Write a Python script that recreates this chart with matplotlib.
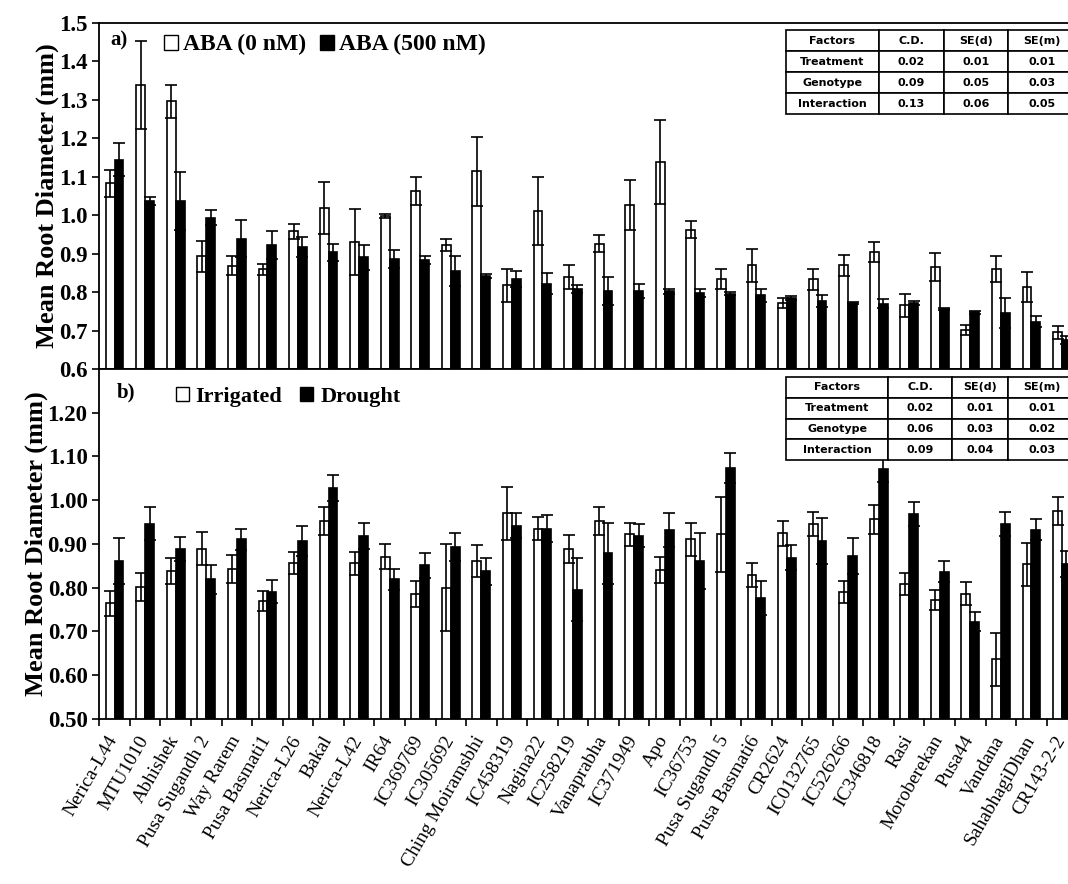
import numpy as np
import matplotlib.pyplot as plt
import matplotlib.transforms as mtransforms
from matplotlib.patches import Patch

plt.rcParams['font.family'] = ['Liberation Serif', 'DejaVu Serif']

genotypes = ['Nerica-L44', 'MTU1010', 'Abhishek', 'Pusa Sugandh 2', 'Way Rarem',
             'Pusa Basmati1', 'Nerica-L26', 'Bakal', 'Nerica-L42', 'IR64',
             'IC369769', 'IC305692', 'Ching Moiramsbhi', 'IC458319', 'Nagina22',
             'IC258219', 'Vanaprabha', 'IC371949', 'Apo', 'IC36753',
             'Pusa Sugandh 5', 'Pusa Basmati6', 'CR2624', 'IC0132765', 'IC526266',
             'IC346818', 'Rasi', 'Moroberekan', 'Pusa44', 'Vandana',
             'SahabhagiDhan', 'CR143-2-2']

# a) ABA treatment, mean root diameter (mm) and error
aba_0 = [1.083, 1.339, 1.296, 0.893, 0.868, 0.859, 0.958, 1.019, 0.929, 0.997,
         1.062, 0.922, 1.114, 0.817, 1.011, 0.838, 0.926, 1.025, 1.139, 0.962,
         0.833, 0.869, 0.772, 0.833, 0.869, 0.903, 0.766, 0.865, 0.701, 0.859,
         0.813, 0.695]
aba_0_err = [0.035, 0.114, 0.043, 0.040, 0.025, 0.015, 0.020, 0.067, 0.086, 0.005,
             0.037, 0.016, 0.090, 0.042, 0.088, 0.031, 0.023, 0.065, 0.109, 0.022,
             0.026, 0.044, 0.013, 0.028, 0.028, 0.026, 0.030, 0.037, 0.013, 0.034,
             0.039, 0.017]
aba_500 = [1.144, 1.036, 1.036, 0.993, 0.939, 0.922, 0.916, 0.903, 0.890, 0.886,
           0.883, 0.854, 0.841, 0.834, 0.822, 0.807, 0.802, 0.802, 0.802, 0.798,
           0.796, 0.791, 0.785, 0.777, 0.772, 0.770, 0.772, 0.756, 0.747, 0.746,
           0.723, 0.675]
aba_500_err = [0.043, 0.010, 0.075, 0.020, 0.047, 0.036, 0.026, 0.023, 0.032, 0.024,
               0.010, 0.039, 0.005, 0.020, 0.028, 0.010, 0.036, 0.018, 0.007, 0.010,
               0.003, 0.018, 0.005, 0.015, 0.003, 0.012, 0.005, 0.003, 0.003, 0.039,
               0.014, 0.010]

# b) water regime, mean root diameter (mm) and error
irrigated = [0.764, 0.801, 0.838, 0.889, 0.842, 0.770, 0.857, 0.953, 0.856, 0.871,
             0.786, 0.800, 0.861, 0.970, 0.935, 0.889, 0.953, 0.922, 0.841, 0.911,
             0.922, 0.829, 0.924, 0.945, 0.790, 0.956, 0.808, 0.772, 0.786, 0.636,
             0.854, 0.976]
irrigated_err = [0.029, 0.032, 0.029, 0.038, 0.032, 0.023, 0.025, 0.032, 0.026, 0.029,
                 0.029, 0.100, 0.036, 0.061, 0.027, 0.032, 0.032, 0.027, 0.030, 0.038,
                 0.085, 0.028, 0.029, 0.027, 0.025, 0.033, 0.025, 0.023, 0.026, 0.061,
                 0.049, 0.032]
drought = [0.861, 0.946, 0.889, 0.819, 0.911, 0.791, 0.907, 1.028, 0.919, 0.819,
           0.851, 0.893, 0.838, 0.942, 0.935, 0.795, 0.879, 0.919, 0.932, 0.861,
           1.074, 0.776, 0.869, 0.907, 0.873, 1.071, 0.968, 0.837, 0.722, 0.945,
           0.932, 0.854]
drought_err = [0.052, 0.038, 0.028, 0.034, 0.024, 0.027, 0.035, 0.030, 0.030, 0.024,
               0.028, 0.031, 0.031, 0.028, 0.031, 0.072, 0.070, 0.027, 0.038, 0.063,
               0.035, 0.039, 0.029, 0.053, 0.041, 0.030, 0.027, 0.024, 0.022, 0.027,
               0.024, 0.030]

table_cols = ['Factors', 'C.D.', 'SE(d)', 'SE(m)']
table_rows = ['Treatment', 'Genotype', 'Interaction']
aba_stats = [['0.02', '0.01', '0.01'], ['0.09', '0.05', '0.03'], ['0.13', '0.06', '0.05']]
water_stats = [['0.02', '0.01', '0.01'], ['0.06', '0.03', '0.02'], ['0.09', '0.04', '0.03']]

bold = {'family': 'Liberation Serif', 'weight': 'bold'}


def draw_panel(ax, white, white_err, black, black_err):
    x = np.arange(len(genotypes)) + 0.5
    w = 0.29
    ax.bar(x - w / 2, white, w, color='white', edgecolor='black', linewidth=1.2, zorder=2)
    ax.bar(x + w / 2, black, w, color='black', edgecolor='black', linewidth=1.2, zorder=2)
    ax.errorbar(x - w / 2, white, yerr=white_err, fmt='none', ecolor='black',
                elinewidth=1.2, capsize=4, capthick=1.2, zorder=3)
    ax.errorbar(x + w / 2, black, yerr=black_err, fmt='none', ecolor='black',
                elinewidth=1.2, capsize=4, capthick=1.2, zorder=3)
    ax.set_xlim(0, len(genotypes))
    for s in ax.spines.values():
        s.set_linewidth(1.3)
    ax.spines['right'].set_visible(False)
    ax.tick_params(axis='y', direction='out', length=5, width=1.2, labelsize=16.5)
    ax.set_ylabel('Mean Root Diameter (mm)', fontsize=19, labelpad=0, **bold)


def draw_table(ax, stats, bbox, col_widths):
    cells = [table_cols] + [[r] + s for r, s in zip(table_rows, stats)]
    tb = ax.table(cellText=cells, bbox=bbox, colWidths=col_widths, cellLoc='center', zorder=5)
    tb.auto_set_font_size(False)
    for (r, c), cell in tb.get_celld().items():
        cell.set_linewidth(1.2)
        cell.set_facecolor('white')
        cell.get_text().set_fontsize(8)
        cell.get_text().set_fontweight('bold')
        cell.get_text().set_fontfamily('DejaVu Sans')


fig = plt.figure(figsize=(10.68, 8.84), dpi=100)
ax1 = fig.add_axes([0.093, 0.5826, 0.9157, 0.3917])
ax2 = fig.add_axes([0.093, 0.1867, 0.9157, 0.3959])

# a) ABA
draw_panel(ax1, aba_0, aba_0_err, aba_500, aba_500_err)
ax1.set_ylim(0.6, 1.5)
ax1.set_yticks(np.arange(0.6, 1.51, 0.1))
ax1.set_yticklabels(['%.1f' % v for v in np.arange(0.6, 1.51, 0.1)], **bold)
ax1.set_xticks([])
ax1.text(0.011, 0.948, 'a)', transform=ax1.transAxes, fontsize=15, va='center', **bold)
ax1.legend(handles=[Patch(facecolor='white', edgecolor='black', label='ABA (0 nM)'),
                    Patch(facecolor='black', edgecolor='black', label='ABA (500 nM)')],
           ncol=2, loc='center left', bbox_to_anchor=(0.066, 0.936), frameon=False,
           borderpad=0, borderaxespad=0, handlelength=0.6, handleheight=0.6,
           handletextpad=0.2, columnspacing=0.6, prop={**bold, 'size': 17})
draw_table(ax1, aba_stats, [0.702, 0.736, 0.296, 0.243], [93, 65, 64, 67])

# b) water regime
draw_panel(ax2, irrigated, irrigated_err, drought, drought_err)
ax2.set_ylim(0.5, 1.3)
ax2.set_yticks(np.arange(0.5, 1.21, 0.1))
ax2.set_yticklabels(['%.2f' % v for v in np.arange(0.5, 1.21, 0.1)], **bold)
ax2.set_xticks(np.arange(0, len(genotypes)))
ax2.set_xticklabels([])
ax2.set_xticks(np.arange(len(genotypes)) + 0.5, minor=True)
ax2.set_xticklabels(genotypes, minor=True, rotation=60, ha='right', va='top',
                    rotation_mode='anchor', fontsize=14)
ax2.tick_params(axis='x', which='major', direction='out', length=5, width=1.2)
ax2.tick_params(axis='x', which='minor', length=0, pad=10)
shift = mtransforms.ScaledTranslation(-8 / 100, 0, fig.dpi_scale_trans)
for lab in ax2.get_xticklabels(minor=True):
    lab.set_transform(lab.get_transform() + shift)
ax2.text(0.018, 0.934, 'b)', transform=ax2.transAxes, fontsize=15, va='center', **bold)
ax2.legend(handles=[Patch(facecolor='white', edgecolor='black', label='Irrigated'),
                    Patch(facecolor='black', edgecolor='black', label='Drought')],
           ncol=2, loc='center left', bbox_to_anchor=(0.078, 0.92), frameon=False,
           borderpad=0, borderaxespad=0, handlelength=0.6, handleheight=0.6,
           handletextpad=0.3, columnspacing=0.8, prop={**bold, 'size': 16})
draw_table(ax2, water_stats, [0.702, 0.74, 0.296, 0.237], [102, 63, 56, 67])

fig.savefig('out.png', dpi=100)
